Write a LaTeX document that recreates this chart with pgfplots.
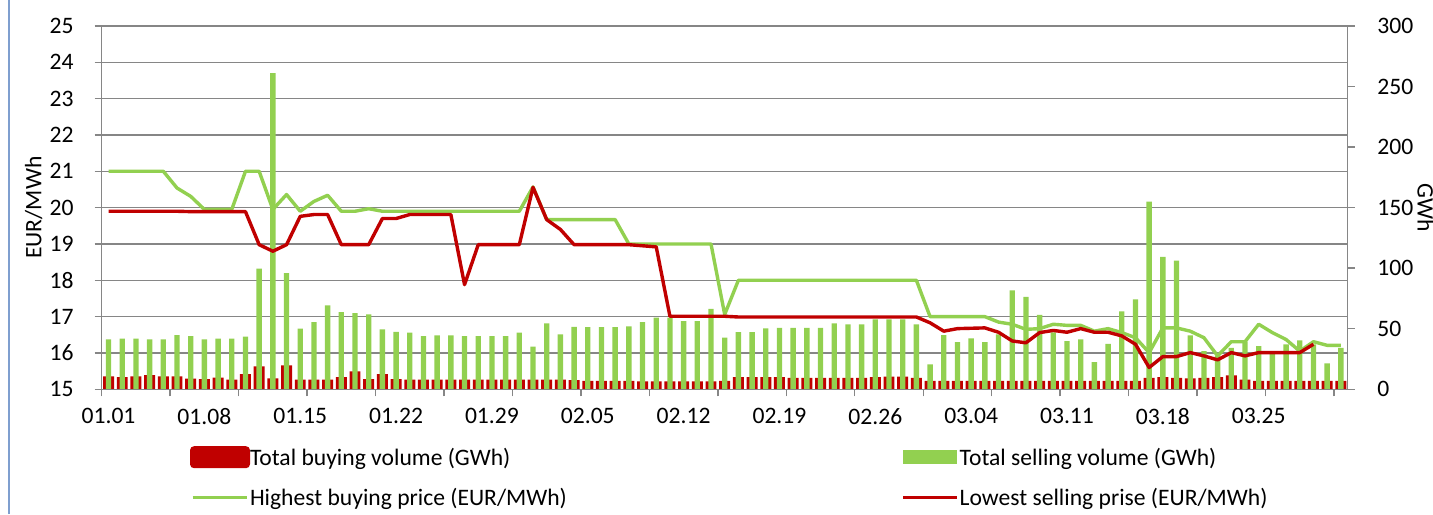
\documentclass[border=0pt]{standalone}
\usepackage{pgfplots}
\usepackage{pgfplotstable}
\pgfplotsset{compat=1.18}
\usepackage{fontspec}
\setmainfont{Carlito}
\definecolor{redA}{HTML}{C00000}
\definecolor{greenA}{HTML}{92D050}
\definecolor{gridc}{HTML}{868686}
\definecolor{bluel}{HTML}{7F9FCF}
\newcommand\cf{\fontsize{11.8}{14}\selectfont}

\pgfplotstableread{
x buy sell hi lo
1 10.7 41.2 21.0 19.90
2 10.0 41.8 21.0 19.90
3 10.7 41.8 21.0 19.90
4 11.8 41.2 21.0 19.90
5 10.7 41.2 21.0 19.90
6 10.7 44.8 20.54 19.90
7 8.8 44.0 20.31 19.89
8 8.5 41.2 19.95 19.89
9 9.6 41.8 19.95 19.89
10 8.0 41.8 19.95 19.89
11 12.6 43.4 21.0 19.89
12 19.0 99.7 21.0 18.98
13 9.0 261 19.95 18.80
14 19.8 95.9 20.36 18.98
15 8.0 50.0 19.9 19.76
16 8.0 55.5 20.17 19.81
17 8.0 69.2 20.34 19.81
18 10.0 63.7 19.9 18.98
19 14.8 62.9 19.9 18.98
20 8.5 61.8 19.97 18.98
21 12.6 49.5 19.9 19.70
22 8.5 47.5 19.9 19.70
23 8.0 46.7 19.9 19.81
24 8.0 44.0 19.9 19.81
25 8.0 44.5 19.9 19.81
26 8.0 44.5 19.9 19.81
27 8.0 44.0 19.9 17.88
28 8.0 44.0 19.9 18.98
29 8.0 44.0 19.9 18.98
30 8.0 44.0 19.9 18.98
31 8.0 46.7 19.9 18.98
32 8.0 35.2 20.57 20.56
33 8.0 54.4 19.67 19.67
34 8.0 45.3 19.67 19.40
35 7.5 51.6 19.67 18.98
36 7.0 51.4 19.67 18.98
37 7.0 51.4 19.67 18.98
38 7.0 51.4 19.67 18.98
39 7.0 51.9 19.0 18.98
40 6.5 55.5 19.0 18.95
41 6.5 59.1 19.0 18.92
42 6.5 59.1 19.0 17.01
43 6.5 56.3 19.0 17.01
44 6.5 56.3 19.0 17.01
45 6.5 66.5 19.0 17.01
46 7.0 42.6 17.06 17.01
47 10.0 47.3 18.0 16.99
48 10.0 47.3 18.0 16.99
49 10.0 50.3 18.0 16.99
50 10.0 50.8 18.0 16.99
51 9.5 50.8 18.0 16.99
52 9.5 50.8 18.0 16.99
53 9.5 50.8 18.0 16.99
54 9.5 54.4 18.0 16.99
55 9.5 53.6 18.0 16.99
56 9.5 53.6 18.0 16.99
57 10.0 57.7 18.0 16.99
58 10.5 57.7 18.0 16.99
59 10.5 57.7 18.0 16.99
60 9.5 53.6 18.0 16.99
61 7.0 20.6 17.0 16.83
62 7.0 44.8 17.0 16.60
63 7.0 39.0 17.0 16.67
64 7.0 42.0 17.0 16.68
65 7.0 39.0 17.0 16.69
66 7.0 45.3 16.85 16.57
67 7.0 81.6 16.79 16.33
68 7.0 76.4 16.65 16.28
69 7.0 61.5 16.67 16.56
70 7.0 47.0 16.79 16.62
71 7.0 39.8 16.76 16.57
72 7.0 41.2 16.76 16.67
73 7.0 22.5 16.60 16.57
74 7.0 37.6 16.67 16.57
75 7.0 64.3 16.56 16.47
76 7.0 74.2 16.42 16.24
77 9.5 155 16.01 15.60
78 10.0 109.3 16.69 15.90
79 9.5 106.3 16.69 15.90
80 9.0 44.5 16.60 16.01
81 9.5 31.6 16.42 15.92
82 10.0 27.5 15.92 15.81
83 11.5 34.3 16.31 16.01
84 8.0 39.3 16.31 15.92
85 7.0 35.7 16.79 16.01
86 7.0 30.2 16.56 16.01
87 7.0 37.1 16.37 16.01
88 7.0 40.4 16.05 16.01
89 7.0 37.1 16.31 16.24
90 7.0 21.4 16.21 nan
91 7.0 34.3 16.21 nan
}\data

\begin{document}
\begin{tikzpicture}
\useasboundingbox (0,0) rectangle (716.5pt,257pt);
\draw[bluel, line width=0.75pt] (4.5pt,0) -- (4.5pt,257pt);
% volumes (right axis)
\begin{axis}[
  scale only axis, width=623pt, height=181.67pt,
  at={(50.85pt,62.35pt)}, anchor=south west,
  xmin=0.5, xmax=91.5, ymin=0, ymax=300,
  axis y line*=right, axis x line*=bottom,
  axis line style={draw=gridc, line width=0.7pt},
  ytick={0,50,...,300},
  minor ytick={30,60,...,300}, yminorgrids,
  minor grid style={draw=gridc, line width=0.7pt},
  minor tick length=0pt,
  xtick={1,8,...,85},
  xticklabels={01.01,01.08,01.15,01.22,01.29,02.05,02.12,02.19,02.26,03.04,03.11,03.18,03.25},
  x tick style={draw=none},
  y tick style={draw=gridc, line width=0.7pt},
  major tick length=3.5pt, tick align=outside,
  tick label style={font=\cf},
  /pgf/number format/assume math mode=true,
  yticklabel style={xshift=7.8pt},
  xticklabel style={yshift=-2.6pt},
  ylabel={GWh},
  every axis y label/.style={at={(axis description cs:1.0626,0.5)}, anchor=center, rotate=-90, font=\cf},
]
\addplot[ybar, bar shift=0pt, bar width=0.8, fill=redA, draw=none] table[x=x,y=buy]{\data};
\addplot[ybar, bar shift=0pt, bar width=0.39, fill=greenA, draw=none] table[x=x,y=sell]{\data};
\end{axis}
% prices (left axis)
\begin{axis}[
  scale only axis, width=623pt, height=181.67pt,
  at={(50.85pt,62.35pt)}, anchor=south west,
  xmin=0.5, xmax=91.5, ymin=15, ymax=25,
  axis y line*=left, axis x line*=bottom,
  axis line style={draw=gridc, line width=0.7pt},
  xtick={0.5,5.5,...,90.5}, xticklabels={},
  ytick={15,16,...,25},
  tick style={draw=gridc, line width=0.7pt},
  major tick length=3.5pt, tick align=outside,
  tick label style={font=\cf},
  /pgf/number format/assume math mode=true,
  yticklabel style={xshift=-7pt},
  ylabel={EUR/MWh},
  every axis y label/.style={at={(axis description cs:-0.0545,0.5)}, anchor=center, rotate=90, font=\cf},
  unbounded coords=jump,
  legend columns=2,
  legend style={draw=none, fill=none, at={(axis description cs:0.07087,-0.1533)}, anchor=north west,
    inner sep=0pt, outer sep=0pt, font=\cf, row sep=6.35pt, column sep=0pt,
    cells={anchor=base west}, nodes={inner sep=0pt, text height=10pt, text depth=4pt}},
]
\addlegendimage{legend image code/.code={\fill[redA, draw=none, rounded corners=2pt] (0pt,-1.6pt) rectangle (30pt,9.4pt); \path[draw=none, fill=none] (0pt,-4pt) rectangle (28.6pt,10pt);}}
\addlegendentry{\makebox[325.9pt][l]{Total buying volume (GWh)}}
\addlegendimage{legend image code/.code={\fill[greenA, draw=none] (0pt,0.4pt) rectangle (26.7pt,7.4pt); \path[draw=none, fill=none] (0pt,-4pt) rectangle (28.2pt,10pt);}}
\addlegendentry{Total selling volume (GWh)}
\addplot[greenA, line width=1.7pt, line join=round, mark=none,
  legend image code/.code={\draw[greenA, line width=1.5pt] (1.35pt,3.9pt) -- (28.35pt,3.9pt); \path[draw=none, fill=none] (0pt,-4pt) rectangle (28.6pt,10pt);}]
  table[x=x,y=hi]{\data};
\addlegendentry{\makebox[325.9pt][l]{Highest buying price (EUR/MWh)}}
\addplot[redA, line width=1.7pt, line join=round, mark=none,
  legend image code/.code={\draw[redA, line width=1.5pt] (0pt,3.9pt) -- (27pt,3.9pt); \path[draw=none, fill=none] (0pt,-4pt) rectangle (28.2pt,10pt);}]
  table[x=x,y=lo]{\data};
\addlegendentry{Lowest selling prise (EUR/MWh)}
\end{axis}
\end{tikzpicture}
\end{document}
